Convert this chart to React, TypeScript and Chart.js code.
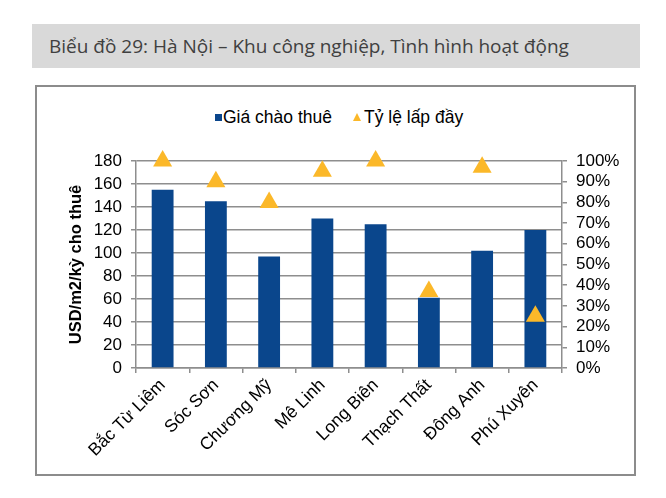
import { useEffect, useRef } from 'react';
import { Chart, registerables } from 'chart.js';

Chart.register(...registerables);

const CATEGORIES = ['Bắc Từ Liêm', 'Sóc Sơn', 'Chương Mỹ', 'Mê Linh', 'Long Biên', 'Thạch Thất', 'Đông Anh', 'Phú Xuyên'];
const RENT = [155, 145, 97, 130, 125, 61, 102, 120];
const OCCUPANCY = [100, 90, 80, 95, 100, 37, 97, 25];

const BAR_COLOR = '#0a468c';
const TRI_COLOR = '#fbb829';
const GRID = '#8e8e8e';
const FONT = '"Liberation Sans", Arial, sans-serif';

export default function App() {
  const canvasRef = useRef<HTMLCanvasElement>(null);
  const chartRef = useRef<Chart | null>(null);

  useEffect(() => {
    document.body.style.margin = '0';
    if (!canvasRef.current) return;
    if (chartRef.current) chartRef.current.destroy();

    chartRef.current = new Chart(canvasRef.current, {
      type: 'bar',
      data: {
        labels: CATEGORIES,
        datasets: [
          {
            type: 'line',
            label: 'Tỷ lệ lấp đầy',
            data: OCCUPANCY,
            yAxisID: 'y1',
            showLine: false,
            pointStyle: 'triangle',
            pointRadius: 11,
            pointHoverRadius: 11,
            pointBackgroundColor: TRI_COLOR,
            pointBorderWidth: 0,
            borderColor: TRI_COLOR,
            backgroundColor: TRI_COLOR,
            clip: false,
            order: 0
          },
          {
            type: 'bar',
            label: 'Giá chào thuê',
            data: RENT,
            yAxisID: 'y',
            backgroundColor: BAR_COLOR,
            barPercentage: 0.41,
            categoryPercentage: 1,
            order: 1
          }
        ]
      },
      options: {
        animation: false,
        responsive: false,
        maintainAspectRatio: false,
        layout: { padding: { top: 31, left: 0, right: 0, bottom: 0 } },
        plugins: { legend: { display: false }, tooltip: { enabled: false } },
        scales: {
          x: {
            offset: true,
            grid: { drawOnChartArea: false, drawTicks: true, tickLength: 5, offset: true, color: GRID, lineWidth: 1.5 },
            border: { color: GRID, width: 1.5 },
            ticks: { autoSkip: false, minRotation: 45, maxRotation: 45, color: '#000', font: { family: FONT, size: 17.5 }, padding: 2 },
            afterFit: (s: any) => { s.height = 106; }
          },
          y: {
            position: 'left',
            min: 0,
            max: 180,
            ticks: { autoSkip: false, stepSize: 20, color: '#000', font: { family: FONT, size: 17 }, padding: 9 },
            grid: { color: GRID, lineWidth: 1.5, tickLength: 5 },
            border: { color: GRID, width: 1.5 },
            title: {
              display: true,
              text: 'USD/m2/kỳ cho thuê',
              color: '#000',
              font: { family: FONT, size: 16.5, weight: 'bold' },
              padding: { top: 30, bottom: 0 }
            },
            afterFit: (s: any) => { s.width = 99; }
          },
          y1: {
            position: 'right',
            min: 0,
            max: 100,
            ticks: {
              autoSkip: false,
              stepSize: 10,
              color: '#000',
              font: { family: FONT, size: 17 },
              padding: 9,
              callback: (v: any) => v + '%'
            },
            grid: { drawOnChartArea: false, color: GRID, lineWidth: 1.5, tickLength: 5 },
            border: { color: GRID, width: 1.5 },
            afterFit: (s: any) => { s.width = 72; }
          }
        }
      }
    });

    return () => {
      if (chartRef.current) chartRef.current.destroy();
      chartRef.current = null;
    };
  }, []);

  return (
    <div style={{ position: 'relative', width: 666, height: 498, background: '#fff', overflow: 'hidden' }}>
      <div
        style={{
          position: 'absolute', left: 32, top: 24, width: 608, height: 44,
          background: '#d9d9d9', color: '#404040',
          fontFamily: '"Open Sans", sans-serif', fontSize: 19,
          lineHeight: '44px', paddingLeft: 17, boxSizing: 'border-box', whiteSpace: 'nowrap'
        }}
      >
        Biểu đồ 29: Hà Nội – Khu công nghiệp, Tình hình hoạt động
      </div>
      <div
        style={{
          position: 'absolute', left: 35, top: 85, width: 601, height: 391,
          border: '2px solid #8c8c8c', boxSizing: 'border-box'
        }}
      />
      <div style={{ position: 'absolute', left: 215, top: 106, height: 22, display: 'flex', alignItems: 'center', fontFamily: FONT, fontSize: 17.5, color: '#000', whiteSpace: 'nowrap' }}>
        <span style={{ display: 'inline-block', width: 7, height: 7, background: BAR_COLOR, marginRight: 1 }} />
        <span>Giá chào thuê</span>
        <span style={{ display: 'inline-block', width: 0, height: 0, borderLeft: '4.5px solid transparent', borderRight: '4.5px solid transparent', borderBottom: `8px solid ${TRI_COLOR}`, marginLeft: 21, marginRight: 3 }} />
        <span>Tỷ lệ lấp đầy</span>
      </div>
      <canvas ref={canvasRef} width={597} height={344} style={{ position: 'absolute', left: 37, top: 130, width: 597, height: 344 }} />
    </div>
  );
}
